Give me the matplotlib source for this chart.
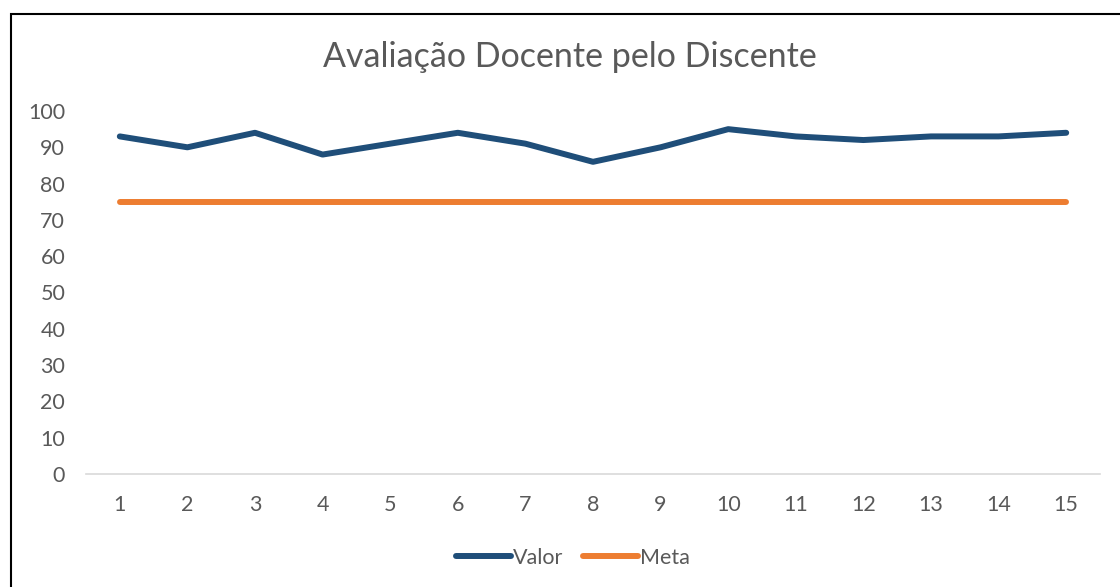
import matplotlib
matplotlib.use("Agg")
import matplotlib.pyplot as plt
from matplotlib.patches import Rectangle

categories = list(range(1, 16))
valor = [93, 90, 94, 88, 91, 94, 91, 86, 90, 95, 93, 92, 93, 93, 94]
meta = [75] * 15
yticks = list(range(0, 101, 10))

plt.rcParams['font.family'] = ['Lato', 'DejaVu Sans']
W, H = 1120, 587
fig = plt.figure(figsize=(W / 100, H / 100), dpi=100)
ax = fig.add_axes([86 / W, 1 - 474 / H, (1100 - 86) / W, (474 - 111) / H])

blue = '#1F4E79'
orange = '#ED7D31'
gray = '#595959'

ax.plot(categories, valor, color=blue, lw=4.3, solid_capstyle='round', solid_joinstyle='round', label='Valor')
ax.plot(categories, meta, color=orange, lw=4.3, solid_capstyle='round', solid_joinstyle='round', label='Meta')

ax.set_xlim(0.5, 15.5)
ax.set_ylim(0, 100)
ax.set_xticks(categories)
ax.set_xticklabels([str(c) for c in categories])
ax.set_yticks(yticks)
for s in ['top', 'right', 'left']:
    ax.spines[s].set_visible(False)
ax.spines['bottom'].set_color('#D9D9D9')
ax.spines['bottom'].set_linewidth(1.2)
ax.tick_params(axis='both', length=0, labelsize=15.5, labelcolor=gray)
ax.tick_params(axis='y', pad=15)
ax.tick_params(axis='x', pad=15)

fig.text(570 / W, 1 - 57 / H, 'Avaliação Docente pelo Discente', ha='center', va='center',
         fontsize=24.5, color=gray)

leg = fig.legend(loc='center', bbox_to_anchor=(573 / W, 1 - 558 / H), ncol=2, frameon=False,
                 fontsize=15.5, handlelength=2.55, handletextpad=0.12, columnspacing=0.9)
for t in leg.get_texts():
    t.set_color(gray)

fig.patches.append(Rectangle((10.5 / W, 0 - 0.01), 1.1, 1 - 13.5 / H + 0.01, transform=fig.transFigure,
                             fill=False, edgecolor='black', lw=1.5))

fig.savefig('out.png', dpi=100)
